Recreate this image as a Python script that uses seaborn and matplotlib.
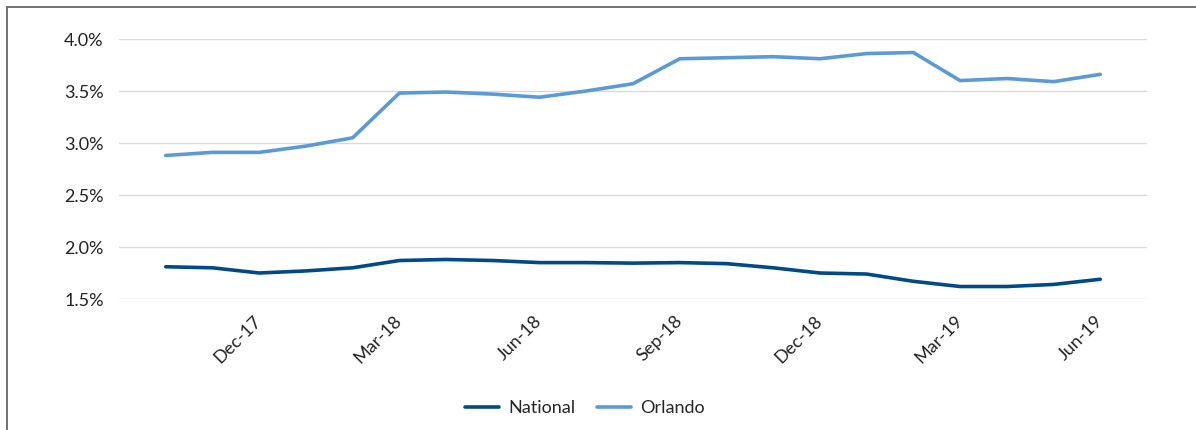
import numpy as np
import matplotlib.pyplot as plt
import pandas as pd
import seaborn as sns
from matplotlib.patches import Rectangle

# meses (out-17 a jun-19)
meses = ['Oct-17', 'Nov-17', 'Dec-17', 'Jan-18', 'Feb-18', 'Mar-18', 'Apr-18',
         'May-18', 'Jun-18', 'Jul-18', 'Aug-18', 'Sep-18', 'Oct-18', 'Nov-18',
         'Dec-18', 'Jan-19', 'Feb-19', 'Mar-19', 'Apr-19', 'May-19', 'Jun-19']

national = [1.81, 1.80, 1.75, 1.77, 1.80, 1.87, 1.88, 1.87, 1.85, 1.85, 1.845,
            1.85, 1.84, 1.80, 1.75, 1.74, 1.67, 1.62, 1.62, 1.64, 1.69]
orlando = [2.88, 2.91, 2.91, 2.97, 3.05, 3.48, 3.49, 3.47, 3.44, 3.50, 3.57,
           3.81, 3.82, 3.83, 3.81, 3.86, 3.87, 3.60, 3.62, 3.59, 3.66]

series = ['National', 'Orlando']
cores = {'National': '#004a86', 'Orlando': '#5b9bd5'}

rotulos = ['Dec-17', 'Mar-18', 'Jun-18', 'Sep-18', 'Dec-18', 'Mar-19', 'Jun-19']
yticks = [1.5, 2.0, 2.5, 3.0, 3.5, 4.0]

dataset = pd.DataFrame({
    'pos': list(range(len(meses))) * 2,
    'valor': national + orlando,
    'serie': ['National'] * len(meses) + ['Orlando'] * len(meses),
})

sns.set_style('white')
plt.rcParams['font.family'] = ['Lato', 'DejaVu Sans']

fig = plt.figure(figsize=(11.96, 4.30), dpi=100)
ax = fig.add_axes([119 / 1196, 1 - 299 / 430, (1147 - 119) / 1196, 260 / 430])

sns.lineplot(data=dataset, x='pos', y='valor', hue='serie', hue_order=series,
             palette=cores, linewidth=2.6, ax=ax, legend=False)

ax.set_xlim(-1, len(meses))
ax.set_ylim(1.5, 4.0)
ax.set_yticks(yticks)
ax.set_yticklabels([f'{v:.1f}%' for v in yticks])
ax.set_xticks([meses.index(r) for r in rotulos])
ax.set_xticklabels(rotulos, rotation=45, ha='right', va='center',
                   rotation_mode='anchor')
ax.tick_params(axis='both', length=0, labelsize=13, colors='#222222')
ax.tick_params(axis='y', pad=11)
ax.tick_params(axis='x', pad=14)
ax.grid(axis='y', color='#d9d9d9', linewidth=1)
ax.set_axisbelow(True)
for s in ax.spines.values():
    s.set_visible(False)
ax.set_xlabel('')
ax.set_ylabel('')

# legenda
handles = [plt.Line2D([], [], color=cores[s], linewidth=2.6) for s in series]
fig.legend(handles, series, loc='center', ncol=2, frameon=False,
           bbox_to_anchor=(585 / 1196, 1 - 408 / 430), fontsize=13,
           handlelength=1.9, columnspacing=1.2, handletextpad=0.5)

# moldura
fig.patches.append(Rectangle((7 / 1196, -0.1), 1.2, 1 - 7 / 430 + 0.1,
                             transform=fig.transFigure, fill=False,
                             edgecolor='#666666', linewidth=1.3))

fig.savefig('out.png', dpi=100)
